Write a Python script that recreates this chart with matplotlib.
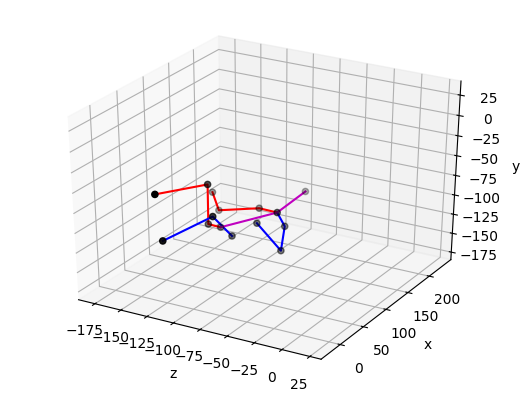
import matplotlib
matplotlib.use('Agg')
import matplotlib.pyplot as plt

# joint positions
joint_z = [-141, -134, -134, -132, -155, -149, -115, -83, -85, -78, -101, -115, -114, -130, -94]
joint_x = [15, 104, 104, 125, 158, 158, 170, 137, 158, 134, 134, 112, 71, 5, 224]
joint_y = [-58, -78, -129, -141, -115, -137, -129, -112, -139, -159, -130, -142, -100, -109, -122]

red_a = [0, 1, 2, 3]
red_b = [4, 5, 6, 7]
blue_a = [13, 12, 11]
blue_b = [7, 8, 9, 10]
purple = [3, 7, 14]

fig = plt.figure(figsize=(5.23, 3.96), dpi=100)
ax = fig.add_subplot(projection='3d')
# stretch the box to the axes rectangle like older matplotlib did
ax.apply_aspect = lambda position=None: None
ax.set_position([0.05, 0.062, 0.90, 0.885])
ax.set_box_aspect((1, 1, 1), zoom=1.0)

ax.scatter(joint_z, joint_x, joint_y, c='k')


def draw(chain, col):
    ax.plot([joint_z[i] for i in chain], [joint_x[i] for i in chain], [joint_y[i] for i in chain], col)


draw(red_a, 'r')
draw(red_b, 'r')
draw(blue_a, 'b')
draw(blue_b, 'b')
draw(purple, 'm')

ax.set_xlabel('z')
ax.set_ylabel('x')
ax.set_zlabel('y')
ax.set_xlim(-191, 35)
ax.set_ylim(-40, 252)
ax.set_zlim(-185, 42)
ax.set_xticks([-175, -150, -125, -100, -75, -50, -25, 0, 25])
ax.set_yticks([0, 50, 100, 150, 200])
ax.set_zticks([-175, -150, -125, -100, -75, -50, -25, 0, 25])
ax.view_init(elev=30, azim=-60)
fig.savefig('out.png', dpi=100)
